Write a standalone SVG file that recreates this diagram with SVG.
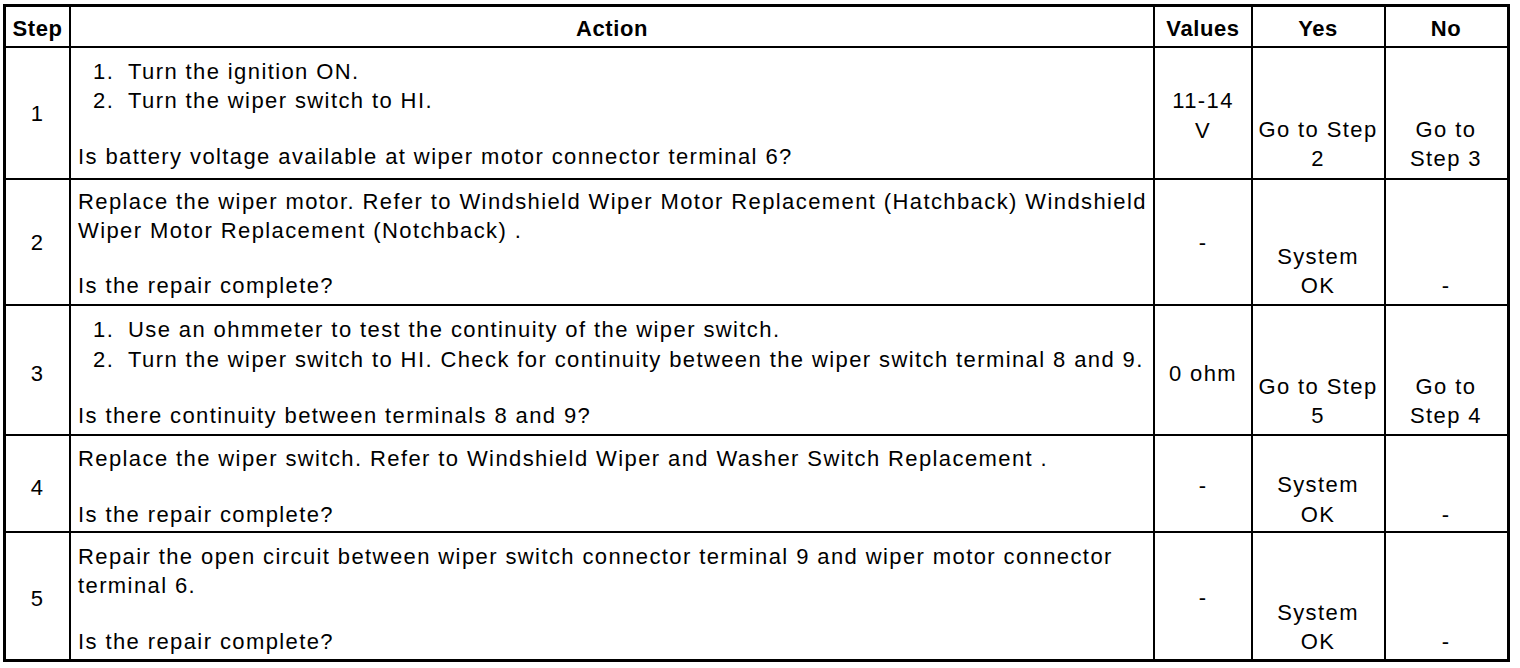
<svg xmlns="http://www.w3.org/2000/svg" width="1520" height="668" viewBox="0 0 1520 668">
<style>
text{font-family:"Liberation Sans",Arial,Helvetica,sans-serif;font-size:22px;fill:#000;letter-spacing:1.4px}
.h{font-weight:bold;letter-spacing:0.6px}
.c{text-anchor:middle}
.grid line{stroke:#000;stroke-width:2}
</style>
<rect x="0" y="0" width="1520" height="668" fill="#fff"/>
<g id="grid" class="grid">
<line x1="70" y1="5" x2="70" y2="660"/>
<line x1="1154" y1="5" x2="1154" y2="660"/>
<line x1="1252" y1="5" x2="1252" y2="660"/>
<line x1="1385" y1="5" x2="1385" y2="660"/>
<line x1="4" y1="47" x2="1509" y2="47"/>
<line x1="4" y1="179" x2="1509" y2="179"/>
<line x1="4" y1="305" x2="1509" y2="305"/>
<line x1="4" y1="435" x2="1509" y2="435"/>
<line x1="4" y1="532" x2="1509" y2="532"/>
<rect x="4.5" y="5.5" width="1504" height="655" fill="none" stroke="#000" stroke-width="3"/>
</g>
<g id="header">
<text class="h c" x="37.5" y="36">Step</text>
<text class="h c" x="612" y="36">Action</text>
<text class="h c" x="1203" y="36">Values</text>
<text class="h c" x="1318" y="36">Yes</text>
<text class="h c" x="1446" y="36">No</text>
</g>
<g id="row1">
<text class="c" x="37.5" y="121">1</text>
<text x="93" y="79">1.<tspan x="128">Turn the ignition ON.</tspan></text>
<text x="93" y="108">2.<tspan x="128">Turn the wiper switch to HI.</tspan></text>
<text x="78" y="164">Is battery voltage available at wiper motor connector terminal 6?</text>
<text class="c" x="1203" y="108">11-14</text>
<text class="c" x="1203" y="138">V</text>
<text class="c" x="1318" y="137">Go to Step</text>
<text class="c" x="1318" y="166">2</text>
<text class="c" x="1446" y="137">Go to</text>
<text class="c" x="1446" y="166">Step 3</text>
</g>
<g id="row2">
<text class="c" x="37.5" y="250">2</text>
<text x="78" y="209">Replace the wiper motor. Refer to Windshield Wiper Motor Replacement (Hatchback) Windshield</text>
<text x="78" y="238">Wiper Motor Replacement (Notchback) .</text>
<text x="78" y="293">Is the repair complete?</text>
<text class="c" x="1203" y="250">-</text>
<text class="c" x="1318" y="264">System</text>
<text class="c" x="1318" y="293">OK</text>
<text class="c" x="1446" y="293">-</text>
</g>
<g id="row3">
<text class="c" x="37.5" y="381">3</text>
<text x="93" y="337">1.<tspan x="128">Use an ohmmeter to test the continuity of the wiper switch.</tspan></text>
<text x="93" y="367">2.<tspan x="128">Turn the wiper switch to HI. Check for continuity between the wiper switch terminal 8 and 9.</tspan></text>
<text x="78" y="423">Is there continuity between terminals 8 and 9?</text>
<text class="c" x="1203" y="381">0 ohm</text>
<text class="c" x="1318" y="394">Go to Step</text>
<text class="c" x="1318" y="423">5</text>
<text class="c" x="1446" y="394">Go to</text>
<text class="c" x="1446" y="423">Step 4</text>
</g>
<g id="row4">
<text class="c" x="37.5" y="495">4</text>
<text x="78" y="466">Replace the wiper switch. Refer to Windshield Wiper and Washer Switch Replacement .</text>
<text x="78" y="522">Is the repair complete?</text>
<text class="c" x="1203" y="493">-</text>
<text class="c" x="1318" y="492">System</text>
<text class="c" x="1318" y="522">OK</text>
<text class="c" x="1446" y="522">-</text>
</g>
<g id="row5">
<text class="c" x="37.5" y="606">5</text>
<text x="78" y="564">Repair the open circuit between wiper switch connector terminal 9 and wiper motor connector</text>
<text x="78" y="593">terminal 6.</text>
<text x="78" y="649">Is the repair complete?</text>
<text class="c" x="1203" y="605">-</text>
<text class="c" x="1318" y="620">System</text>
<text class="c" x="1318" y="649">OK</text>
<text class="c" x="1446" y="649">-</text>
</g>
</svg>
